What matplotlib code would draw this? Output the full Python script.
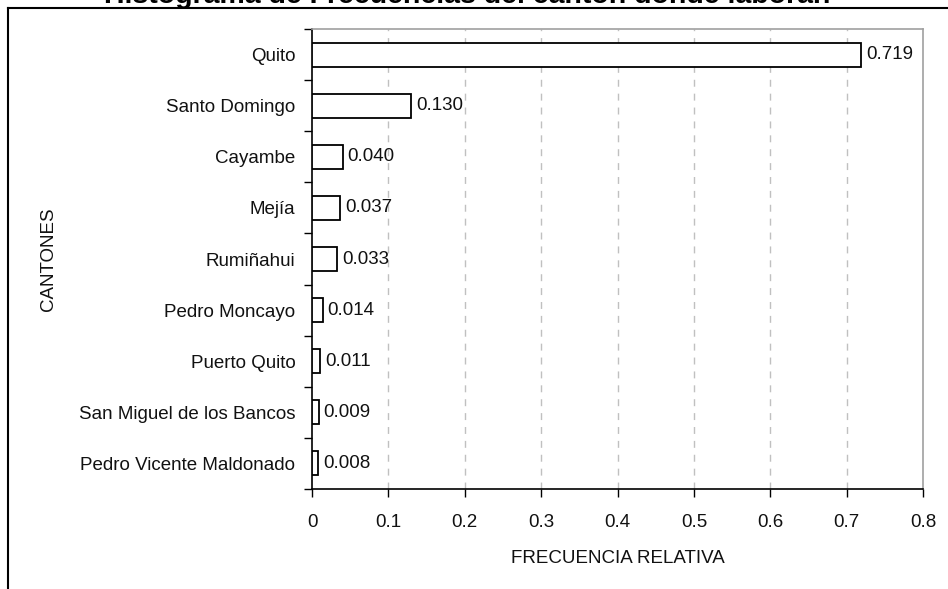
import matplotlib
matplotlib.use("Agg")
import matplotlib.pyplot as plt
from matplotlib.lines import Line2D
import numpy as np

plt.rcParams['font.family'] = ['Liberation Sans', 'DejaVu Sans']

categories = ["Quito", "Santo Domingo", "Cayambe", "Mejía", "Rumiñahui",
              "Pedro Moncayo", "Puerto Quito", "San Miguel de los Bancos",
              "Pedro Vicente Maldonado"]
values = [0.719, 0.130, 0.040, 0.037, 0.033, 0.014, 0.011, 0.009, 0.008]
value_labels = ["0.719", "0.130", "0.040", "0.037", "0.033", "0.014", "0.011", "0.009", "0.008"]
xticks = [0, 0.1, 0.2, 0.3, 0.4, 0.5, 0.6, 0.7, 0.8]
xtick_labels = ["0", "0.1", "0.2", "0.3", "0.4", "0.5", "0.6", "0.7", "0.8"]
title = "Histograma de Frecuencias del cantón donde laboran"

W, H = 948, 589
fig = plt.figure(figsize=(W / 100, H / 100), dpi=100)
ax = fig.add_axes([312 / W, (H - 489) / H, 611 / W, 460 / H])

n = len(categories)
ypos = np.arange(n)
ax.barh(ypos, values, height=0.47, color="white", edgecolor="black", linewidth=1.3, zorder=3)
ax.set_ylim(n - 0.5, -0.5)
ax.set_xlim(0, 0.8)

for y, v, lab in zip(ypos, values, value_labels):
    ax.annotate(lab, (v, y), xytext=(3.5, 0), textcoords="offset points",
                va="center", ha="left", fontsize=13.5, color="#111111")

ax.set_yticks(ypos)
ax.set_yticklabels(categories, fontsize=13.5, color="#111111")
ax.set_yticks(np.arange(n + 1) - 0.5, minor=True)
ax.tick_params(axis="y", which="major", length=0, pad=12)
ax.tick_params(axis="y", which="minor", length=6, width=1, color="black", direction="out")

ax.set_xticks(xticks)
ax.set_xticklabels(xtick_labels, fontsize=13.5, color="#111111")
ax.tick_params(axis="x", length=6, width=1, color="black", direction="out", pad=12)

for x in xticks[1:-1]:
    ax.axvline(x, color="#c0c0c0", linestyle=(0, (5, 5)), linewidth=1, zorder=1)

ax.spines["left"].set_color("black")
ax.spines["bottom"].set_color("black")
ax.spines["top"].set_color("#a0a0a0")
ax.spines["right"].set_color("#a0a0a0")
for s in ax.spines.values():
    s.set_linewidth(1.2)

ax.set_xlabel("FRECUENCIA RELATIVA", fontsize=13.5, labelpad=14, color="#111111")
ax.set_ylabel("CANTONES", fontsize=13.5, labelpad=16, color="#111111")

# outer frame (partially visible)
fig.add_artist(Line2D([8 / W, 1.0], [(H - 8) / H, (H - 8) / H], transform=fig.transFigure,
                      color="black", linewidth=1.5))
fig.add_artist(Line2D([8 / W, 8 / W], [0, (H - 8) / H], transform=fig.transFigure,
                      color="black", linewidth=1.5))

fig.text(467 / W, (H - 3) / H, title, ha="center", va="baseline",
         fontsize=20.5, fontweight="bold", color="black")

fig.savefig("out.png", dpi=100, facecolor="white")
